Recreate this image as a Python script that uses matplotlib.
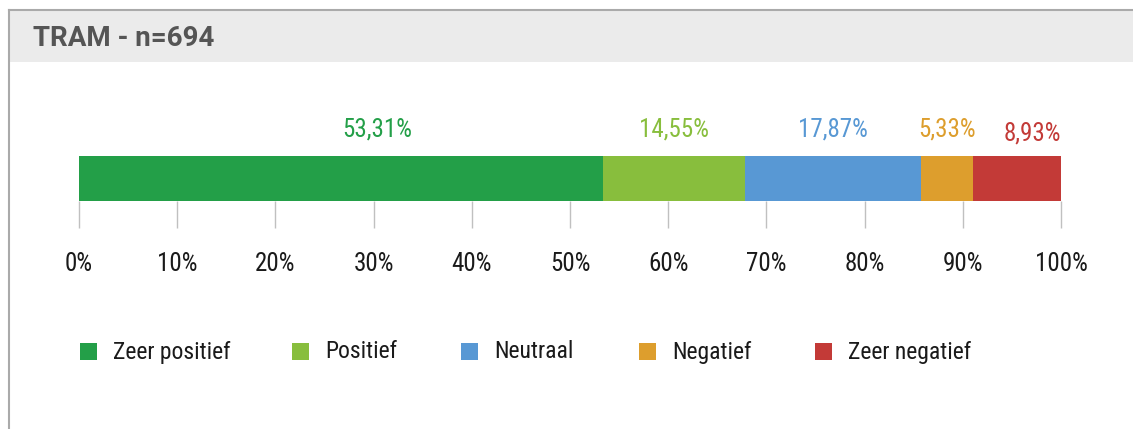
import matplotlib
matplotlib.use('Agg')
import matplotlib.pyplot as plt
from matplotlib.patches import Rectangle
from matplotlib.lines import Line2D
from matplotlib import font_manager as fm

W, H = 1133, 429

# data
title = 'TRAM - n=694'
categories = ['Zeer positief', 'Positief', 'Neutraal', 'Negatief', 'Zeer negatief']
values = [53.31, 14.55, 17.87, 5.33, 8.93]
labels = ['53,31%', '14,55%', '17,87%', '5,33%', '8,93%']
colors = ['#239F48', '#88BE3D', '#5898D4', '#DD9E2D', '#C33A37']
ticks = [0, 10, 20, 30, 40, 50, 60, 70, 80, 90, 100]
tick_labels = ['%d%%' % t for t in ticks]

# label nudges (percent units / px) so they don't collide
lab_dx = [3.7, 0, 0, 0, 1.6]
lab_y = [130, 130, 130, 130, 133]
leg_x = [80, 292, 461, 639, 815]

# pick a narrow font that is actually there
have = set(f.name for f in fm.fontManager.ttflist)
narrow = [n for n in ['Liberation Sans Narrow', 'Roboto Condensed', 'PT Sans Narrow',
                      'Archivo Narrow', 'Fira Sans Condensed'] if n in have]
plt.rcParams['font.family'] = narrow[:1] + ['DejaVu Sans']

fig = plt.figure(figsize=(W/100, H/100), dpi=100)
fig.patch.set_facecolor('white')

def fx(px): return px/W
def fy(py): return 1 - py/H

# header band + frame
fig.add_artist(Rectangle((fx(9), fy(62)), fx(W-9), (62-10)/H, transform=fig.transFigure,
                         facecolor='#EBEBEB', edgecolor='none'))
fig.add_artist(Line2D([fx(9), fx(9)], [fy(10), fy(H)], color='#AAAAAA', lw=1.5, transform=fig.transFigure))
fig.add_artist(Line2D([fx(9), 1], [fy(10), fy(10)], color='#AAAAAA', lw=1.5, transform=fig.transFigure))
fig.text(fx(33), fy(38), title, fontsize=20, fontweight='bold', color='#555555', va='center', ha='left',
         family=['Roboto', 'DejaVu Sans'])

ax = fig.add_axes([fx(79), fy(201), fx(982), 45/H])
left = 0
for i in range(len(values)):
    ax.barh(0, values[i], left=left, height=1, color=colors[i], edgecolor='none')
    cx = left + values[i]/2 + lab_dx[i]
    ax.text(cx, (201-lab_y[i])/45, labels[i], transform=ax.get_xaxis_transform(),
            ha='center', va='center', fontsize=18, color=colors[i])
    left += values[i]

ax.set_xlim(0, 100)
ax.set_ylim(-0.5, 0.5)
ax.set_yticks([])
ax.set_xticks(ticks)
ax.set_xticklabels(tick_labels, fontsize=18, color='#1A1A1A')
ax.tick_params(axis='x', direction='out', length=19.5, width=1, color='#C0C0C0', pad=17)
for s in ax.spines.values():
    s.set_visible(False)

# legend
for i in range(len(categories)):
    fig.add_artist(Rectangle((fx(leg_x[i]), fy(360)), fx(17), 17/H, transform=fig.transFigure,
                             facecolor=colors[i], edgecolor='none'))
    fig.text(fx(leg_x[i]+33), fy(352), categories[i], fontsize=17, color='#1A1A1A',
             va='center', ha='left')

fig.savefig('out.png', dpi=100)
